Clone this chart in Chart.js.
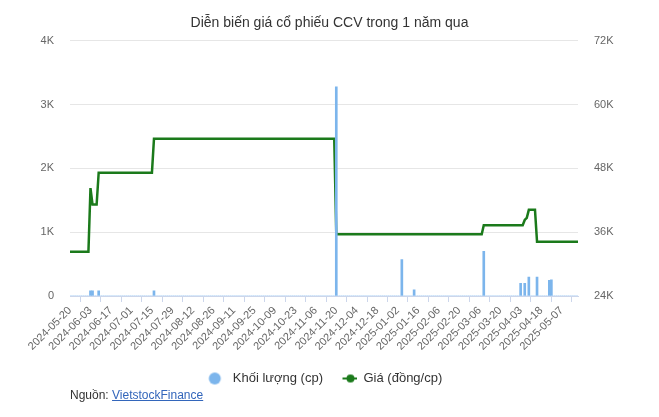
<!DOCTYPE html>
<html>
<head>
<meta charset="utf-8">
<script src="https://cdn.jsdelivr.net/npm/chart.js@4.4.1/dist/chart.umd.min.js"></script>
<style>
    html, body { margin: 0; padding: 0; background: #fff; }
    #wrap { position: relative; width: 659px; height: 417px; }
    #source { position: absolute; left: 70px; top: 388px; font: 12px Arial, "Liberation Sans", sans-serif; color: #333; }
    #source a { color: #3366bb; text-decoration: underline; }
</style>
</head>
<body>
<div id="wrap">
    <canvas id="ccvChart" width="659" height="417"></canvas>
    <div id="source">Nguồn: <a href="#">VietstockFinance</a></div>
</div>
<script>
// Trading calendar (HOSE): weekdays minus market holidays
const firstDay = '2024-05-20';
const lastDay = '2025-05-19';
const holidays = [
    '2024-09-02', '2024-09-03', '2025-01-01',
    '2025-01-27', '2025-01-28', '2025-01-29', '2025-01-30', '2025-01-31',
    '2025-04-07', '2025-04-30', '2025-05-01', '2025-05-02'
];

// Labels shown on the x axis
const tickLabels = [
    '2024-05-20', '2024-06-03', '2024-06-17', '2024-07-01', '2024-07-15', '2024-07-29',
    '2024-08-12', '2024-08-26', '2024-09-11', '2024-09-25', '2024-10-09', '2024-10-23',
    '2024-11-06', '2024-11-20', '2024-12-04', '2024-12-18', '2025-01-02', '2025-01-16',
    '2025-02-06', '2025-02-20', '2025-03-06', '2025-03-20', '2025-04-03', '2025-04-18',
    '2025-05-07'
];

// Closing price (dong/cp), one row = 10 trading days
const price = [
    32300, 32300, 32300, 32300, 32300, 32300, 32300, 32300, 32300, 32300,
    44300, 41200, 41200, 41200, 47200, 47200, 47200, 47200, 47200, 47200,
    47200, 47200, 47200, 47200, 47200, 47200, 47200, 47200, 47200, 47200,
    47200, 47200, 47200, 47200, 47200, 47200, 47200, 47200, 47200, 47200,
    47200, 53600, 53600, 53600, 53600, 53600, 53600, 53600, 53600, 53600,
    53600, 53600, 53600, 53600, 53600, 53600, 53600, 53600, 53600, 53600,
    53600, 53600, 53600, 53600, 53600, 53600, 53600, 53600, 53600, 53600,
    53600, 53600, 53600, 53600, 53600, 53600, 53600, 53600, 53600, 53600,
    53600, 53600, 53600, 53600, 53600, 53600, 53600, 53600, 53600, 53600,
    53600, 53600, 53600, 53600, 53600, 53600, 53600, 53600, 53600, 53600,
    53600, 53600, 53600, 53600, 53600, 53600, 53600, 53600, 53600, 53600,
    53600, 53600, 53600, 53600, 53600, 53600, 53600, 53600, 53600, 53600,
    53600, 53600, 53600, 53600, 53600, 53600, 53600, 53600, 53600, 53600,
    35600, 35600, 35600, 35600, 35600, 35600, 35600, 35600, 35600, 35600,
    35600, 35600, 35600, 35600, 35600, 35600, 35600, 35600, 35600, 35600,
    35600, 35600, 35600, 35600, 35600, 35600, 35600, 35600, 35600, 35600,
    35600, 35600, 35600, 35600, 35600, 35600, 35600, 35600, 35600, 35600,
    35600, 35600, 35600, 35600, 35600, 35600, 35600, 35600, 35600, 35600,
    35600, 35600, 35600, 35600, 35600, 35600, 35600, 35600, 35600, 35600,
    35600, 35600, 35600, 35600, 35600, 35600, 35600, 35600, 35600, 35600,
    35600, 35600, 37300, 37300, 37300, 37300, 37300, 37300, 37300, 37300,
    37300, 37300, 37300, 37300, 37300, 37300, 37300, 37300, 37300, 37300,
    37300, 37300, 38300, 38700, 40200, 40200, 40200, 40200, 34200, 34200,
    34200, 34200, 34200, 34200, 34200, 34200, 34200, 34200, 34200, 34200,
    34200, 34200, 34200, 34200, 34200, 34200, 34200, 34200, 34200
];

// Sessions with matched volume (cp)
const volumeDates = [
    '2024-06-03', '2024-06-04', '2024-06-07', '2024-07-16', '2024-11-20',
    '2025-01-06', '2025-01-14', '2025-03-10', '2025-04-03', '2025-04-08',
    '2025-04-10', '2025-04-16', '2025-04-24', '2025-04-25'
];
const volumeValues = [80, 80, 80, 80, 3280, 570, 95, 700, 200, 200, 295, 295, 245, 255];

/**
 * Lists the trading sessions between two dates.
 */
function tradingDays(from, to) {
    const days = [];
    const d = new Date(from + 'T00:00:00Z');
    const end = new Date(to + 'T00:00:00Z');
    while (d <= end) {
        const iso = d.toISOString().slice(0, 10);
        const wd = d.getUTCDay();
        if (wd !== 0 && wd !== 6 && !holidays.includes(iso)) {
            days.push(iso);
        }
        d.setUTCDate(d.getUTCDate() + 1);
    }
    return days;
}

const labels = tradingDays(firstDay, lastDay);
const volume = labels.map(day => {
    const k = volumeDates.indexOf(day);
    return k >= 0 ? volumeValues[k] : 0;
});

// Small canvases used as legend symbols
function legendIcon(draw) {
    const c = document.createElement('canvas');
    c.width = 24;
    c.height = 14;
    draw(c.getContext('2d'));
    return c;
}
const volIcon = legendIcon(g => {
    g.fillStyle = '#7cb5ec';
    g.beginPath();
    g.arc(12.5, 7, 6, 0, Math.PI * 2);
    g.fill();
});
const priceIcon = legendIcon(g => {
    g.strokeStyle = '#1b7a1b';
    g.lineWidth = 2;
    g.beginPath();
    g.moveTo(9.5, 7);
    g.lineTo(24, 7);
    g.stroke();
    g.fillStyle = '#1b7a1b';
    g.beginPath();
    g.arc(17.5, 7, 4, 0, Math.PI * 2);
    g.fill();
});
const icons = [volIcon, priceIcon];
// trailing gap keeps the legend block centred where the original sits
const legendTail = ['', '    '];

const kFormat = v => v === 0 ? '0' : (v / 1000) + 'K';
const fontFamily = 'Arial, "Liberation Sans", sans-serif';

new Chart(document.getElementById('ccvChart'), {
    type: 'bar',
    data: {
        labels: labels,
        datasets: [{
            label: 'Khối lượng (cp)',
            data: volume,
            yAxisID: 'yVol',
            backgroundColor: '#7cb5ec',
            barThickness: 2
        }, {
            label: 'Giá (đồng/cp)',
            type: 'line',
            data: price,
            yAxisID: 'yPrice',
            borderColor: '#1b7a1b',
            borderWidth: 2.5,
            pointRadius: 0,
            tension: 0
        }]
    },
    options: {
        responsive: false,
        animation: false,
        layout: { padding: { top: 0, right: 0, bottom: 22, left: 0 } },
        plugins: {
            title: {
                display: true,
                text: 'Diễn biến giá cổ phiếu CCV trong 1 năm qua',
                color: '#333',
                font: { family: fontFamily, size: 14, weight: 'normal' },
                padding: { top: 15, bottom: 9 }
            },
            legend: {
                position: 'bottom',
                labels: {
                    usePointStyle: true,
                    pointStyleWidth: 24,
                    padding: 10,
                    color: '#333',
                    font: { family: fontFamily, size: 13 },
                    generateLabels: chart => chart.data.datasets.map((ds, i) => ({
                        text: ds.label + legendTail[i],
                        pointStyle: icons[i],
                        fontColor: '#333',
                        hidden: false,
                        datasetIndex: i,
                        lineWidth: 0,
                        strokeStyle: 'transparent',
                        fillStyle: 'transparent'
                    }))
                }
            },
            tooltip: { enabled: false }
        },
        scales: {
            x: {
                offset: false,
                grid: { drawOnChartArea: false, drawTicks: true, tickLength: 6, color: '#ccd6eb' },
                border: { color: '#ccd6eb' },
                ticks: {
                    autoSkip: false,
                    minRotation: 45,
                    maxRotation: 45,
                    padding: 2,
                    color: '#666',
                    font: { family: fontFamily, size: 11 }
                },
                afterBuildTicks: scale => {
                    scale.ticks = scale.ticks.filter(t => tickLabels.includes(labels[t.value]));
                },
                afterFit: scale => { scale.height = 66; }
            },
            yVol: {
                position: 'left',
                min: 0,
                max: 4000,
                ticks: { stepSize: 1000, callback: kFormat, padding: 16, color: '#666', font: { family: fontFamily, size: 11 } },
                grid: { color: '#e6e6e6', drawTicks: false },
                border: { display: false },
                afterFit: scale => { scale.width = 70; }
            },
            yPrice: {
                position: 'right',
                min: 24000,
                max: 72000,
                ticks: { stepSize: 12000, callback: kFormat, padding: 16, color: '#666', font: { family: fontFamily, size: 11 } },
                grid: { drawOnChartArea: false, drawTicks: false },
                border: { display: false },
                afterFit: scale => { scale.width = 81; }
            }
        }
    }
});
</script>
</body>
</html>
